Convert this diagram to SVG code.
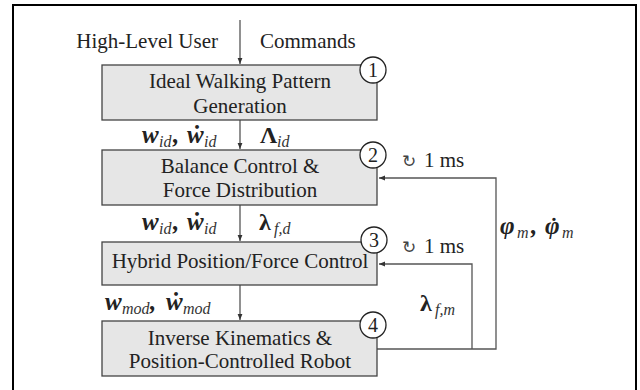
<svg xmlns="http://www.w3.org/2000/svg" width="640" height="390" viewBox="0 0 640 390">
<style>
.t{font-family:"Liberation Serif","Times New Roman",serif;font-size:21px;fill:#222}
.box{fill:#e6e6e6;stroke:#444;stroke-width:1.3}
.num{fill:#fff;stroke:#222;stroke-width:1.3}
.n{font-family:"Liberation Serif",serif;font-size:20px;fill:#222;text-anchor:middle}
.c{fill:none;stroke:#555;stroke-width:1.3}
.m{font-family:"Liberation Serif",serif;font-size:25px;font-weight:bold;font-style:italic;fill:#222}
.mu{font-family:"Liberation Serif",serif;font-size:24px;font-weight:bold;fill:#222}
.s{font-family:"Liberation Serif",serif;font-size:16px;font-style:italic;fill:#333}
.mid{text-anchor:middle}
.sym{font-family:"DejaVu Sans",sans-serif;font-size:17px;fill:#444}
.dot{font-family:"Liberation Serif",serif;font-size:22px;font-weight:bold;fill:#222;text-anchor:middle}
</style>
<defs>
<marker id="ah" viewBox="0 0 10 10" refX="10" refY="5" markerWidth="6" markerHeight="6" orient="auto" markerUnits="userSpaceOnUse">
<path d="M0,1 L10,5 L0,9 z" fill="#333"/>
</marker>
</defs>
<rect x="13" y="5" width="623" height="400" fill="none" stroke="#000" stroke-width="2"/>

<g id="connectors">
<path class="c" d="M240,20 V64" marker-end="url(#ah)"/>
<path class="c" d="M240,120 V149" marker-end="url(#ah)"/>
<path class="c" d="M240,205 V241" marker-end="url(#ah)"/>
<path class="c" d="M240,285 V320" marker-end="url(#ah)"/>
<path class="c" d="M377,349 H496 V178 H379" marker-end="url(#ah)"/>
<path class="c" d="M472,349 V264 H379" marker-end="url(#ah)"/>
</g>

<g id="input-label">
<text class="t" x="218" y="48" text-anchor="end">High-Level User</text>
<text class="t" x="260" y="48">Commands</text>
</g>

<g id="node1">
<rect class="box" x="102" y="65" width="275" height="55"/>
<text class="t mid" x="240" y="88">Ideal Walking Pattern</text>
<text class="t mid" x="240" y="113">Generation</text>
<circle class="num" cx="373" cy="70" r="13"/>
<text class="n" x="373" y="77">1</text>
</g>

<g id="node2">
<rect class="box" x="102" y="150" width="275" height="55"/>
<text class="t mid" x="240" y="173">Balance Control &amp;</text>
<text class="t mid" x="240" y="197">Force Distribution</text>
<circle class="num" cx="373" cy="155" r="13"/>
<text class="n" x="373" y="162">2</text>
</g>

<g id="node3">
<rect class="box" x="102" y="242" width="275" height="43"/>
<text class="t mid" x="240" y="268">Hybrid Position/Force Control</text>
<circle class="num" cx="374" cy="240" r="13"/>
<text class="n" x="374" y="247">3</text>
</g>

<g id="node4">
<rect class="box" x="102" y="321" width="275" height="55"/>
<text class="t mid" x="240" y="345">Inverse Kinematics &amp;</text>
<text class="t mid" x="240" y="368">Position-Controlled Robot</text>
<circle class="num" cx="373" cy="325" r="13"/>
<text class="n" x="373" y="332">4</text>
</g>

<g id="labels">
<text y="143"><tspan class="m" x="142">w</tspan><tspan class="s" x="159" dy="4">id</tspan><tspan class="m" x="173" dy="-4">,</tspan><tspan class="m" x="187">w&#x307;</tspan><tspan class="s" x="204" dy="4">id</tspan></text>
<text y="143"><tspan class="mu" x="260">Λ</tspan><tspan class="s" x="277" dy="4">id</tspan></text>

<text y="230"><tspan class="m" x="142">w</tspan><tspan class="s" x="159" dy="4">id</tspan><tspan class="m" x="173" dy="-4">,</tspan><tspan class="m" x="187">w&#x307;</tspan><tspan class="s" x="204" dy="4">id</tspan></text>
<text y="230"><tspan class="mu" x="259">λ</tspan><tspan class="s" x="274" dy="4">f,d</tspan></text>

<text y="310"><tspan class="m" x="105">w</tspan><tspan class="s" x="122" dy="4">mod</tspan><tspan class="m" x="150" dy="-4">,</tspan><tspan class="m" x="166">w&#x307;</tspan><tspan class="s" x="183" dy="4">mod</tspan></text>

<text y="167"><tspan class="sym" x="402">↻</tspan><tspan class="t" x="424">1 ms</tspan></text>
<text y="253"><tspan class="sym" x="402">↻</tspan><tspan class="t" x="424">1 ms</tspan></text>

<text y="234"><tspan class="m" x="500">φ</tspan><tspan class="s" x="517" dy="4">m</tspan><tspan class="m" x="531" dy="-4">,</tspan><tspan class="m" x="545">φ</tspan><tspan class="s" x="562" dy="4">m</tspan></text>
<text class="dot" x="554" y="233">˙</text>
<text y="311"><tspan class="mu" x="420">λ</tspan><tspan class="s" x="435" dy="4">f,m</tspan></text>
</g>
</svg>
